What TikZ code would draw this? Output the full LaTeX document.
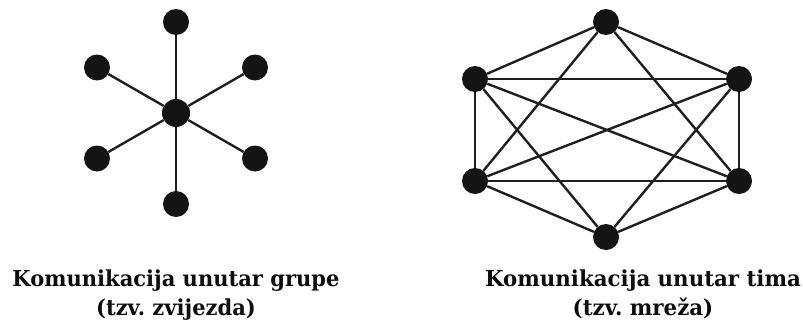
\documentclass[tikz,border=0pt]{standalone}
\usepackage{fontspec}
\setmainfont{DejaVu Serif}
\usepackage{graphicx}
\newsavebox\lblbox
\newlength\lblw
\newcommand\fitx[2]{\sbox\lblbox{#2}\setlength\lblw{\wd\lblbox}\pgfmathsetmacro\fitfac{#1/\lblw}\xdef\lastfac{\fitfac}\scalebox{\fitfac}[1]{\usebox\lblbox}}
\newcommand\samex[1]{\scalebox{\lastfac}[1]{#1}}
\tikzset{
  dot/.style={circle, fill=black!92, draw=none, minimum size=26pt, inner sep=0pt},
  bigdot/.style={dot, minimum size=28pt},
  link/.style={line width=2.4pt, draw=black!88},
  lbl/.style={anchor=base, inner sep=0pt, text=black!95, font=\fontsize{22}{26}\selectfont\bfseries\frenchspacing}
}
\begin{document}
\begin{tikzpicture}[x=1pt,y=-1pt]
\useasboundingbox (0,0) rectangle (803,324);
% star
\node[bigdot] (c) at (176,113) {};
\node[dot] (s1) at (176,22) {};
\node[dot] (s2) at (97,67.5) {};
\node[dot] (s3) at (255,67.5) {};
\node[dot] (s4) at (97,158.5) {};
\node[dot] (s5) at (255,158.5) {};
\node[dot] (s6) at (176,204) {};
\foreach \n in {s1,s2,s3,s4,s5,s6} \draw[link] (c) -- (\n);
% network
\node[dot] (t)  at (606,22) {};
\node[dot] (ul) at (475,79) {};
\node[dot] (ur) at (739,79) {};
\node[dot] (ll) at (475,181) {};
\node[dot] (lr) at (739,181) {};
\node[dot] (b)  at (606,237) {};
\foreach \a/\bb in {t/ul,t/ur,t/ll,t/lr,ul/ur,ul/ll,ul/lr,ul/b,ur/lr,ur/ll,ur/b,ll/lr,ll/b,lr/b}
  \draw[link] (\a) -- (\bb);
% labels
\node[lbl] (l1) at (176,286) {\fitx{327}{Komunikacija unutar grupe}};
\node[lbl] (l2) at (176,315) {\samex{(tzv. zvijezda)}};
\node[lbl] (r1) at (643,286) {\fitx{316}{Komunikacija unutar tima}};
\node[lbl] (r2) at (643,315) {\samex{(tzv. mreža)}};
\end{tikzpicture}
\end{document}
